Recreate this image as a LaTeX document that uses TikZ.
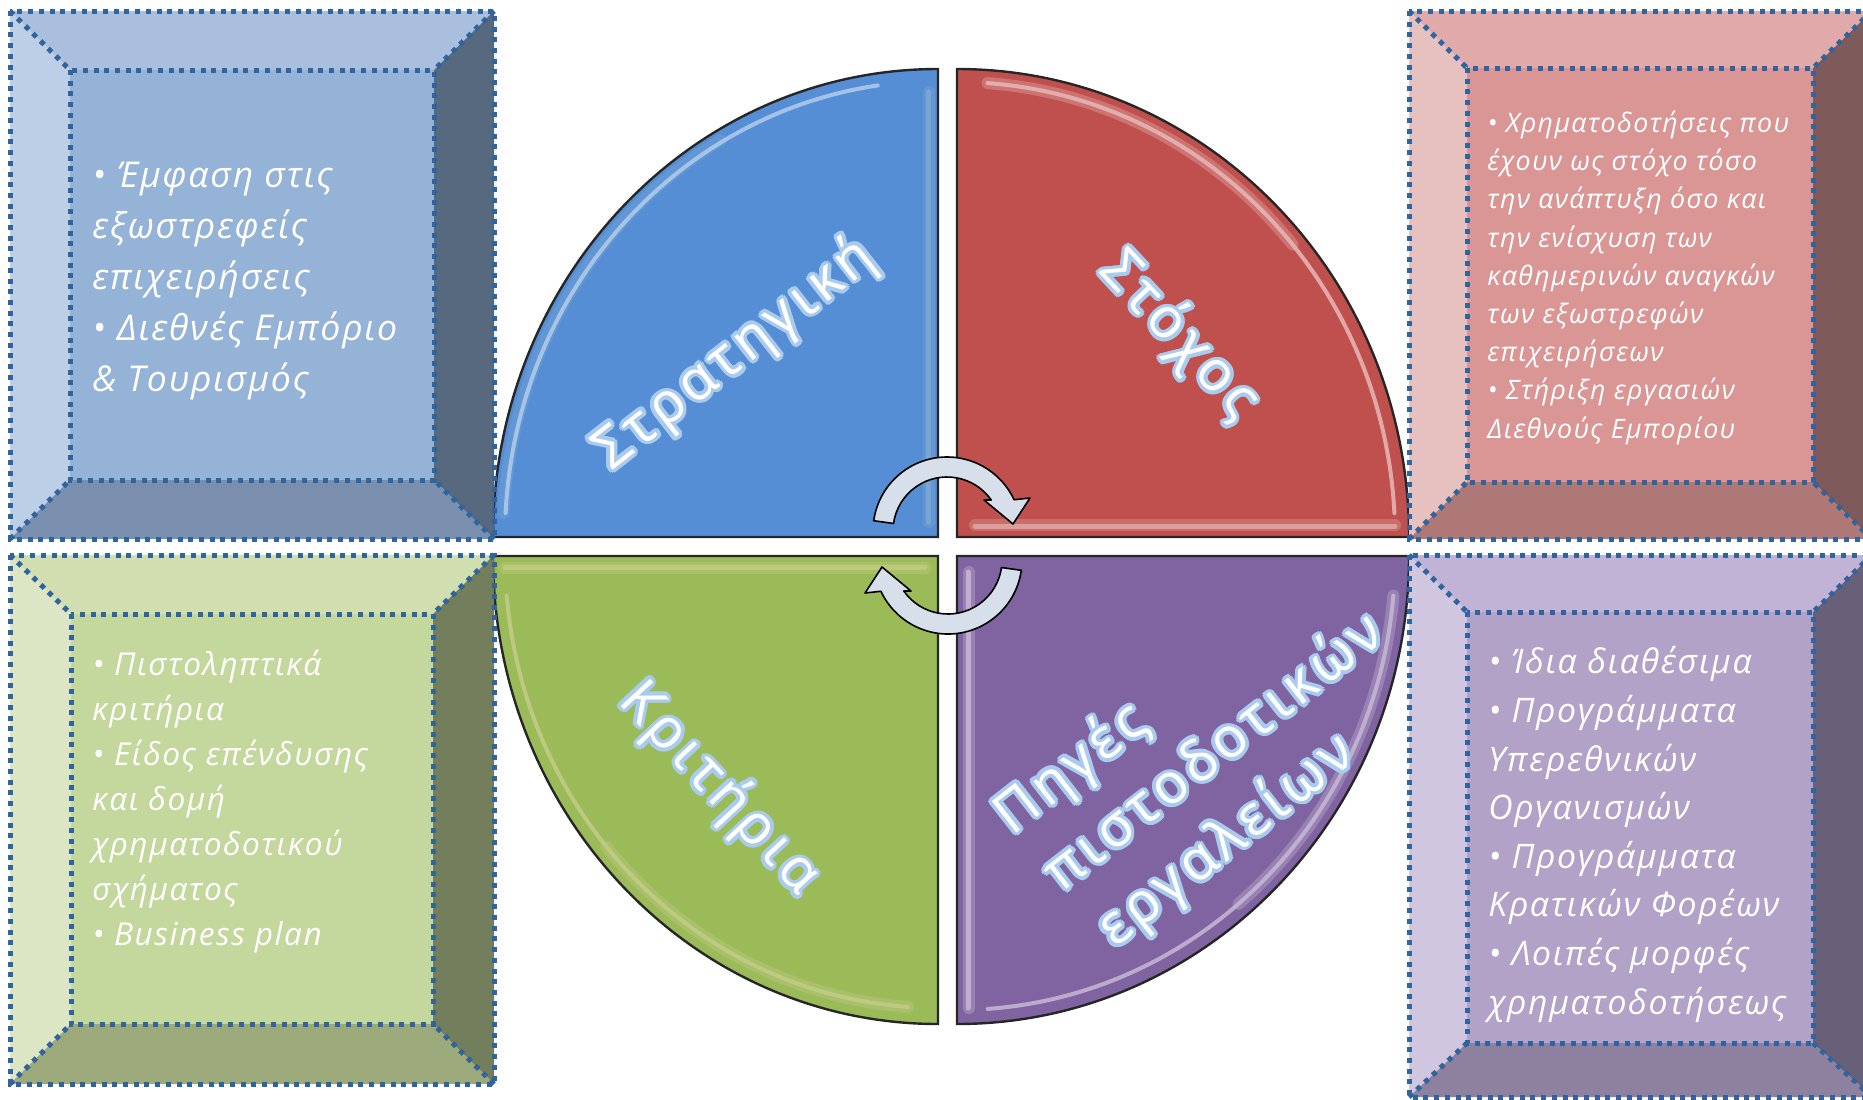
\documentclass[tikz,border=0pt]{standalone}
\usepackage{fontspec}
\setmainfont{Open Sans}
\newfontfamily\boxfont[LetterSpace=5]{Open Sans}
\newfontfamily\bigfont[LetterSpace=8]{Open Sans}
\usepackage{contour}
\contourlength{1.8pt}
\contournumber{12}
\usetikzlibrary{calc}

\definecolor{qblue}{HTML}{558ED5}
\definecolor{qred}{HTML}{C0504D}
\definecolor{qgreen}{HTML}{9BBB59}
\definecolor{qpurple}{HTML}{8064A2}
\definecolor{dotblue}{HTML}{2F649F}
\definecolor{glowc}{HTML}{A9CBEE}
\definecolor{arrowfill}{HTML}{D7DFEB}
\definecolor{tlTop}{HTML}{AABFDD}\definecolor{tlLeft}{HTML}{BCCFE6}\definecolor{tlFace}{HTML}{95B3D7}\definecolor{tlRight}{HTML}{57697F}\definecolor{tlBot}{HTML}{7A8FAE}
\definecolor{trTop}{HTML}{E0AAAA}\definecolor{trLeft}{HTML}{E7C0C0}\definecolor{trFace}{HTML}{D99694}\definecolor{trRight}{HTML}{7F5A5A}\definecolor{trBot}{HTML}{AE7877}
\definecolor{blTop}{HTML}{D0DEB0}\definecolor{blLeft}{HTML}{DCE6C5}\definecolor{blFace}{HTML}{C4D79C}\definecolor{blRight}{HTML}{737F5C}\definecolor{blBot}{HTML}{9CAA7B}
\definecolor{brTop}{HTML}{C1B3D5}\definecolor{brLeft}{HTML}{D1C6DF}\definecolor{brFace}{HTML}{B2A2C7}\definecolor{brRight}{HTML}{686078}\definecolor{brBot}{HTML}{8E809F}

\tikzset{
  dotline/.style={draw=dotblue, line width=2.5pt, dash pattern=on 2.5pt off 2.85pt},
  quad/.style={draw=black!85, line width=1.2pt},
  shine/.style={line width=2pt, line cap=round, opacity=0.85},
  glowband/.style={line width=6pt, line cap=round, opacity=0.35},
  arrowshape/.style={fill=arrowfill, draw=black, line width=0.8pt, line join=round},
  biglabel/.style={text=white, inner sep=0pt, font=\bigfont\fontsize{28pt}{34pt}\selectfont},
  boxtext/.style={text=white, inner sep=0pt, align=left, anchor=base west},
}

\newcommand\bevelbox[9]{%
  \fill[#9Top] (#1,#2) -- (#3,#2) -- (#7,#6) -- (#5,#6) -- cycle;
  \fill[#9Left] (#1,#2) -- (#5,#6) -- (#5,#8) -- (#1,#4) -- cycle;
  \fill[#9Right] (#3,#2) -- (#3,#4) -- (#7,#8) -- (#7,#6) -- cycle;
  \fill[#9Bot] (#1,#4) -- (#5,#8) -- (#7,#8) -- (#3,#4) -- cycle;
  \fill[#9Face] (#5,#6) rectangle (#7,#8);
  \draw[dotline] (#1,#2) rectangle (#3,#4);
  \draw[dotline] (#5,#6) rectangle (#7,#8);
  \draw[dotline] (#1,#2) -- (#5,#6);
  \draw[dotline] (#3,#2) -- (#7,#6);
  \draw[dotline] (#1,#4) -- (#5,#8);
  \draw[dotline] (#3,#4) -- (#7,#8);
}

\begin{document}
\begin{tikzpicture}[x={(0.5pt,0)}, y={(0,-0.5pt)}]
\useasboundingbox (0,0) rectangle (1863,1099);
\fill[white] (0,0) rectangle (1863,1099);
\clip (0,0) rectangle (1863,1099);

% ---------- pie quadrants ----------
\fill[qblue] (938,537) -- (493,537) arc[start angle=180,end angle=270,x radius=445,y radius=468] -- cycle;
\draw[glowband, white!60!cyan!40!qblue] ($(938,537)+(183:435 and 458)$) arc[start angle=183,end angle=240,x radius=435,y radius=458];
\draw[shine, white!55!qblue] ($(938,537)+(183:433 and 456)$) arc[start angle=183,end angle=262,x radius=433,y radius=456];
\draw[glowband, white!60!cyan!40!qblue] (929,92) -- (929,522);
\draw[shine, line width=2.5pt, white!60!cyan!40!qblue] (928,92) -- (928,522);
\draw[quad] (938,537) -- (493,537) arc[start angle=180,end angle=270,x radius=445,y radius=468] -- cycle;

\fill[qred] (957,537) -- (957,69) arc[start angle=270,end angle=360,x radius=452,y radius=468] -- cycle;
\draw[glowband, white!60!qred] ($(957,537)+(274:438 and 455)$) arc[start angle=274,end angle=320,x radius=438,y radius=455];
\draw[shine, white!60!qred] ($(957,537)+(274:438 and 455)$) arc[start angle=274,end angle=357,x radius=438,y radius=455];
\draw[glowband, white!50!qred] (975,525) -- (1395,525);
\draw[shine, line width=2.5pt, white!50!qred] (975,526) -- (1395,526);
\draw[quad] (957,537) -- (957,69) arc[start angle=270,end angle=360,x radius=452,y radius=468] -- cycle;

\fill[qgreen] (938,556) -- (938,1024) arc[start angle=90,end angle=180,x radius=445,y radius=468] -- cycle;
\draw[glowband, white!65!yellow!30!qgreen] ($(938,556)+(94:433 and 452)$) arc[start angle=94,end angle=140,x radius=433,y radius=452];
\draw[shine, white!65!yellow!30!qgreen] ($(938,556)+(94:433 and 452)$) arc[start angle=94,end angle=175,x radius=433,y radius=452];
\draw[glowband, white!55!yellow!30!qgreen] (505,568) -- (925,568);
\draw[shine, line width=2.5pt, white!55!yellow!30!qgreen] (505,567) -- (925,567);
\draw[quad] (938,556) -- (938,1024) arc[start angle=90,end angle=180,x radius=445,y radius=468] -- cycle;

\fill[qpurple] (957,556) -- (1409,556) arc[start angle=0,end angle=90,x radius=452,y radius=468] -- cycle;
\draw[glowband, white!55!qpurple] ($(957,556)+(5:438 and 454)$) arc[start angle=5,end angle=50,x radius=438,y radius=454];
\draw[shine, white!55!qpurple] ($(957,556)+(5:438 and 454)$) arc[start angle=5,end angle=86,x radius=438,y radius=454];
\draw[glowband, white!55!qpurple] (969,572) -- (969,1008);
\draw[shine, line width=2.5pt, white!55!qpurple] (968,572) -- (968,1008);
\draw[quad] (957,556) -- (1409,556) arc[start angle=0,end angle=90,x radius=452,y radius=468] -- cycle;

% ---------- circular arrows ----------
\draw[arrowshape] ($(947,531)+(-172:74)$) arc[start angle=-172,end angle=-25,radius=74]
   -- (1030,498) -- (1013,524) -- (984,500) -- ($(947,531)+(-35:54)$)
   arc[start angle=-35,end angle=-172,radius=54] -- cycle;
\begin{scope}[rotate around={180:(947.5,545.5)}]
\draw[arrowshape] ($(947,531)+(-172:74)$) arc[start angle=-172,end angle=-25,radius=74]
   -- (1030,498) -- (1013,524) -- (984,500) -- ($(947,531)+(-35:54)$)
   arc[start angle=-35,end angle=-172,radius=54] -- cycle;
\end{scope}

% ---------- bevelled boxes ----------
\bevelbox{10}{11}{494}{539}{70}{70}{434}{480}{tl}
\bevelbox{1409}{11}{1872}{539}{1467}{68}{1813}{482}{tr}
\bevelbox{10}{555}{494}{1084}{71}{614}{433}{1024}{bl}
\bevelbox{1409}{555}{1872}{1097}{1467}{612}{1813}{1043}{br}

% ---------- box texts (anchored at the baseline of the last line) ----------
\node[boxtext, font=\boxfont\itshape\fontsize{17.8pt}{25.5pt}\selectfont] (tltext) at (92,391)
  {• Έμφαση στις\\εξωστρεφείς\\επιχειρήσεις\\• Διεθνές Εμπόριο\\\& Τουρισμός};
\node[boxtext, font=\boxfont\itshape\fontsize{13.4pt}{19.1pt}\selectfont] (trtext) at (1487,438)
  {• Χρηματοδοτήσεις που\\έχουν ως στόχο τόσο\\την ανάπτυξη όσο και\\την ενίσχυση των\\καθημερινών αναγκών\\των εξωστρεφών\\επιχειρήσεων\\• Στήριξη εργασιών\\Διεθνούς Εμπορίου};
\node[boxtext, font=\boxfont\itshape\fontsize{15.8pt}{22.5pt}\selectfont] (bltext) at (92,945)
  {• Πιστοληπτικά\\κριτήρια\\• Είδος επένδυσης\\και δομή\\χρηματοδοτικού\\σχήματος\\• Business plan};
\node[boxtext, font=\boxfont\itshape\fontsize{16.9pt}{24.3pt}\selectfont] (brtext) at (1488,1014)
  {• Ίδια διαθέσιμα\\• Προγράμματα\\Υπερεθνικών\\Οργανισμών\\• Προγράμματα\\Κρατικών Φορέων\\• Λοιπές μορφές\\χρηματοδοτήσεως};

% ---------- quadrant labels ----------
\node[biglabel, rotate=38] (strat) at (736,356) {\contour{glowc}{Στρατηγική}};
\node[biglabel, rotate=-47] (stoxos) at (1178,337) {\contour{glowc}{Στόχος}};
\node[biglabel, rotate=-47] (krit) at (718,790) {\contour{glowc}{Κριτήρια}};
\node[biglabel, rotate=38] (pig1) at (1073,771) {\contour{glowc}{Πηγές}};
\node[biglabel, rotate=38] (pig2) at (1212,750) {\contour{glowc}{πιστοδοτικών}};
\node[biglabel, rotate=38] (pig3) at (1228,843) {\contour{glowc}{εργαλείων}};
\end{tikzpicture}
\end{document}
